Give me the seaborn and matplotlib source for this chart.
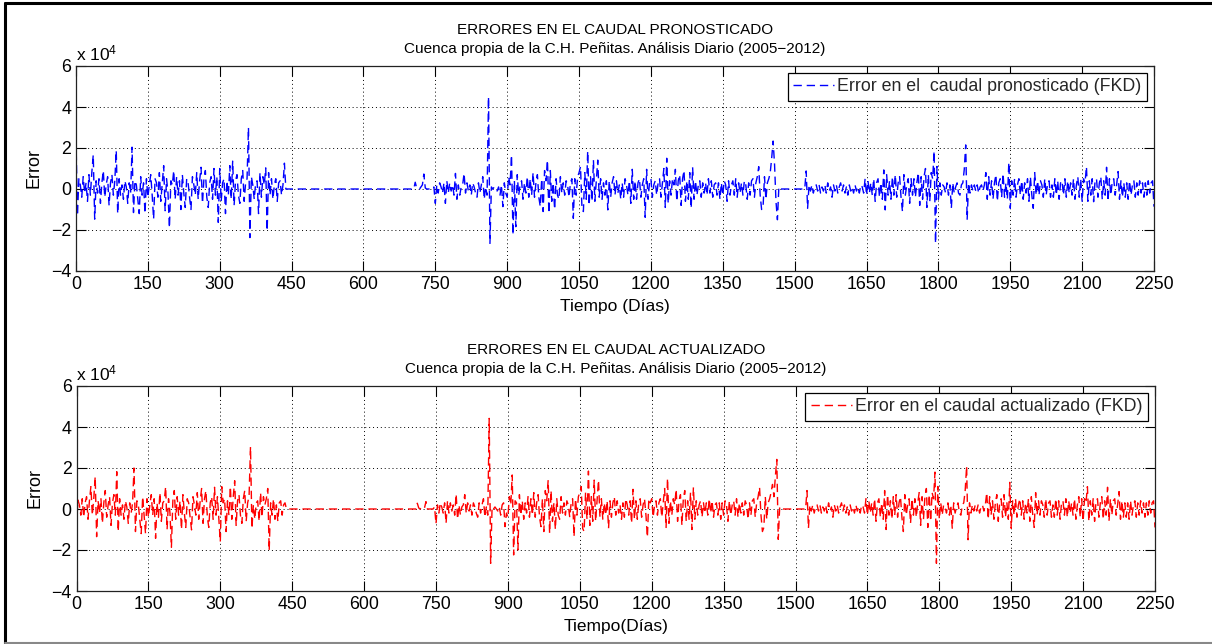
import matplotlib
matplotlib.use("Agg")
import matplotlib.pyplot as plt
import seaborn as sns
from matplotlib.lines import Line2D

# ---------------- data (values in units of 10^4, one value every 3 days) ----------------
days = list(range(0, 2251, 3))

err_pronosticado = [
    2.45, -1.3, 0.5, 0.2, -0.4, 0.6, -0.2, 0.3, -0.6, 0.7,
    -0.3, 0.8, 1.67, -1.47, 0.4, -0.2, 0.5, -0.7, 0.3, 0.9,
    -0.4, 0.2, 0.6, -0.8, 0.3, 0.7, -0.3, 0.4, 1.88, -1.2,
    0.5, -0.3, 0.2, -0.5, 0.4, 0.1, -0.7, 0.3, -0.2, 2.04,
    -1.15, 0.4, 0.2, -0.5, -1.2, 0.6, -0.3, 0.3, -1.2, 0.5,
    -0.4, 0.2, 0.7, -0.3, -1.47, 0.5, 0.3, -0.4, 0.8, -0.6,
    0.3, 1.14, -1.06, 0.5, -0.2, -1.9, 0.4, 0.2, 0.9, -0.5,
    0.6, -0.3, 0.4, -1.0, 0.7, -0.2, -0.9, 0.5, 0.3, -0.4,
    -1.0, 0.6, 0.2, -0.3, 0.8, -0.5, 0.4, 1.06, -0.7, 0.5,
    0.9, -0.4, -0.9, 0.3, 0.6, -0.5, 1.0, -0.3, 0.6, -1.63,
    1.0, -0.6, 0.3, 0.5, -1.2, 0.4, -0.3, 1.14, -0.5, 1.36,
    -0.8, 0.4, 0.7, -0.3, -0.7, 0.5, 0.9, -0.6, 0.3, 0.5,
    3.0, -2.37, 0.6, 0.2, -0.5, 0.3, 0.4, -1.2, 0.8, -0.4,
    0.6, 0.2, 1.03, -2.04, 0.8, -0.3, 0.5, -0.5, 0.2, 0.5,
    -0.6, 0.3, 0.4, -0.3, 0.2, 1.26, 0.0, 0.0, 0.0, 0.0,
    0, 0, 0, 0, 0, 0, 0, 0, 0, 0,
    0, 0, 0, 0, 0, 0, 0, 0, 0, 0,
    0, 0, 0, 0, 0, 0, 0, 0, 0, 0,
    0, 0, 0, 0, 0, 0, 0, 0, 0, 0,
    0, 0, 0, 0, 0, 0, 0, 0, 0, 0,
    0, 0, 0, 0, 0, 0, 0, 0, 0, 0,
    0, 0, 0, 0, 0, 0, 0, 0, 0, 0,
    0, 0, 0, 0, 0, 0, 0, 0, 0, 0,
    0, 0, 0, 0, 0, 0, 0.33, 0.05, 0.0, 0.0,
    0.1, 0.2, 0.73, 0.05, 0.0, 0.0, 0.0, 0.0, 0.0, 0.1,
    -0.7, 0.2, -0.2, 0.3, 0.1, -0.2, 0.3, -0.7, 0.4, -0.2,
    0.3, -0.1, 0.2, -0.3, 0.76, -0.5, 0.2, -0.3, 0.1, 0.2,
    0.76, -0.2, 0.3, -0.1, 0.2, -0.3, 0.3, 0.1, -0.2, -0.4,
    0.3, -0.2, 0.2, 0.6, -0.5, 0.1, -0.3, 4.5, -2.65, 0.1,
    0.0, 0.1, 0.0, -0.1, 0.1, -0.3, 0.2, -0.86, 0.3, -0.2,
    -0.4, 0.6, 0.2, 1.66, -2.24, 0.4, -1.84, 0.7, -0.3, 0.2,
    0.4, -0.5, 0.3, -0.2, 0.6, -0.4, 0.5, -0.3, 0.8, -0.4,
    0.3, 0.7, -0.4, -0.86, 0.5, -1.1, 0.9, 0.4, 1.41, -1.19,
    0.9, -0.6, 0.3, -1.0, 0.5, -0.3, -0.5, 0.6, -0.2, 0.3,
    -0.3, 0.4, 0.2, -0.4, 0.3, 0.5, -1.43, 0.5, -0.3, 0.6,
    0.8, 1.09, -0.9, -1.1, 0.8, -0.5, 1.85, -0.8, 0.6, -0.6,
    1.41, -0.6, 0.4, 1.41, -0.4, 0.5, -0.5, 0.3, -0.3, 0.4,
    -1.02, 0.4, -0.4, 0.3, 0.6, -0.3, 0.4, -0.2, 0.2, -0.5,
    0.3, -0.4, 0.5, 0.2, -0.3, 0.4, -0.7, 0.96, -0.5, 0.4,
    -0.5, 0.3, 0.5, -0.4, 0.2, 0.5, -1.38, 0.96, -0.5, 0.3,
    0.5, -0.4, 0.2, 0.4, -0.3, 0.3, 0.5, -0.4, 0.3, 1.0,
    -0.9, 1.5, -0.7, 0.4, -0.3, 0.5, 0.2, 0.96, -0.6, 0.4,
    0.7, -0.8, 0.5, 0.9, -0.6, 0.4, -0.5, 0.8, -0.94, 1.06,
    -0.5, 0.4, -0.3, 0.2, 0.4, -0.4, 0.3, -0.2, 0.3, -0.3,
    0.5, -0.2, 0.4, -0.4, 0.2, 0.3, -0.3, 0.3, -0.5, 0.3,
    -0.3, 0.4, 0.2, -0.6, 0.4, -0.3, 0.2, 0.4, -0.3, 0.5,
    -0.4, 0.3, -0.2, 0.3, -0.3, 0.4, 0.2, -0.5, 0.3, -0.3,
    0.4, 0.5, -0.4, 0.3, 0.6, 1.09, -0.3, -1.0, -0.9, 0.6,
    -0.5, 0.3, 0.5, 0.8, 1.5, 2.34, 1.2, -0.6, -1.5, 0.1,
    0.0, 0, 0, 0, 0, 0, 0, 0, 0, 0,
    0, 0, 0, 0, 0, 0, 0, 0, 0.88, -0.94,
    0.2, -0.1, 0.2, -0.2, 0.1, 0.2, -0.1, 0.2, -0.2, 0.1,
    -0.1, 0.2, -0.2, 0.3, -0.1, 0.1, -0.4, 0.2, -0.1, 0.2,
    -0.2, 0.1, 0.3, -0.1, 0.2, -0.2, 0.1, -0.3, 0.2, -0.1,
    0.1, -0.2, 0.2, -0.1, 0.1, -0.2, 0.2, 0.1, -0.2, 0.5,
    -0.3, 0.4, -0.2, 0.3, -0.3, 0.5, -0.6, 0.3, 0.5, -0.4,
    0.3, -0.5, 0.93, -1.02, 0.7, -0.3, 0.4, -0.5, 0.6, -0.3,
    0.7, -0.4, 0.3, 0.6, -0.4, -1.1, 0.7, -0.3, 0.2, 0.5,
    -0.7, 0.5, -0.3, 0.5, -0.4, 0.3, 0.8, -0.8, 0.6, -0.5,
    0.6, 1.0, -0.9, 0.7, -0.6, 0.8, 0.5, 1.85, -2.65, 1.1,
    -0.5, 0.3, -0.3, 0.2, 0.1, -0.2, 0.3, -0.3, 0.2, -0.94,
    0.3, -0.2, 0.1, 0.3, -0.2, -0.3, 0.2, 0.3, 0.96, 2.15,
    -1.5, 0.3, -0.2, 0.2, -0.1, 0.2, -0.1, 0.2, -0.2, 0.1,
    0.2, -0.1, 0.2, 0.8, -0.5, 0.6, -0.3, 0.4, -0.5, 0.3,
    0.7, -0.6, 0.3, 0.5, -0.4, 0.76, -0.4, 0.3, -0.5, 1.3,
    -0.94, 0.4, -0.3, 0.5, -0.4, 0.2, 0.5, -0.3, 0.4, -0.5,
    0.3, -0.2, 0.5, -0.6, 0.6, -0.3, -0.94, 0.8, -0.3, 0.4,
    -0.3, 0.4, 0.2, -0.4, 0.5, -0.3, 0.3, 0.4, -0.4, 0.2,
    -0.4, 0.5, -0.3, 0.4, -0.5, 0.3, 0.4, -0.3, 0.5, -0.4,
    0.4, -0.2, 0.3, -0.3, 0.5, -0.5, 0.2, 0.6, -0.4, 0.5,
    -0.6, 0.5, 0.3, 1.09, -0.6, 0.4, -0.3, 0.5, -0.62, 0.4,
    0.5, -0.4, 0.3, 0.6, -0.5, 0.4, -0.3, 1.06, -0.6, 0.5,
    -0.3, 0.4, 0.5, -0.3, 0.2, 0.85, -0.5, 0.4, -0.4, 0.3,
    -0.4, 0.3, -0.5, 0.4, -0.3, 0.2, 0.4, -0.4, 0.3, -0.3,
    0.4, -0.2, 0.3, -0.4, 0.3, -0.3, 0.4, -0.2, 0.3, 0.4,
    -0.86,
]

err_actualizado = [
    -0.86, 0.44, 0.2, -0.3, 0.5, -0.4, 0.3, 0.6, -0.5, 0.4,
    1.09, -0.3, 0.5, 1.58, -1.35, 0.4, -0.2, 0.5, -0.7, 0.3,
    0.9, -0.4, 0.2, 0.6, -0.8, 0.3, 0.7, -0.3, 1.82, -1.1,
    0.5, -0.3, 0.2, -0.5, 0.4, 0.1, -0.7, 0.3, -0.2, 0.3,
    2.0, -1.1, 0.4, 0.2, -0.5, -1.2, 0.6, -0.3, -1.2, 0.5,
    -0.4, 0.2, 0.7, -0.3, 0.5, -1.43, 0.3, -0.4, 0.8, -0.6,
    0.3, 0.4, 1.09, -1.0, 0.5, -0.2, -1.87, 0.4, 0.9, -0.5,
    0.6, -0.3, 0.4, -1.0, 0.7, -0.2, -0.9, 0.5, 0.3, -0.4,
    -1.02, 0.6, 0.2, -0.3, 0.8, -0.5, 0.4, 1.0, -0.7, 0.5,
    0.9, -0.4, -0.9, 0.3, 0.6, -0.5, 1.06, -0.3, 0.6, -0.5,
    -1.6, 1.09, 0.3, 0.5, -1.1, 0.4, -0.3, 1.1, -0.5, 0.6,
    1.38, -0.8, 0.4, 0.7, -0.3, -0.7, 0.5, 0.9, -0.6, 0.3,
    0.6, 3.04, -0.95, 0.2, -0.5, 0.3, 0.4, -0.6, 0.8, -0.4,
    0.6, 0.2, 0.5, 1.0, -2.03, 0.3, -0.3, 0.5, -0.5, 0.2,
    -0.6, 0.3, 0.4, -0.3, 0.2, 0.3, 0.0, 0.0, 0.0, 0.0,
    0, 0, 0, 0, 0, 0, 0, 0, 0, 0,
    0, 0, 0, 0, 0, 0, 0, 0, 0, 0,
    0, 0, 0, 0, 0, 0, 0, 0, 0, 0,
    0, 0, 0, 0, 0, 0, 0, 0, 0, 0,
    0, 0, 0, 0, 0, 0, 0, 0, 0, 0,
    0, 0, 0, 0, 0, 0, 0, 0, 0, 0,
    0, 0, 0, 0, 0, 0, 0, 0, 0, 0,
    0, 0, 0, 0, 0, 0, 0, 0, 0, 0,
    0, 0, 0, 0, 0, 0, 0, 0.28, 0.05, 0.0,
    0.1, 0.1, 0.05, 0.36, 0.0, 0.0, 0.0, 0.0, 0.0, 0.1,
    -0.72, 0.2, -0.2, 0.3, 0.1, -0.2, 0.3, -0.7, 0.4, -0.2,
    0.3, -0.1, 0.2, -0.3, 0.73, -0.5, 0.2, -0.3, 0.1, 0.2,
    0.7, -0.2, 0.3, -0.1, 0.2, -0.3, 0.3, 0.1, -0.2, -0.4,
    0.3, -0.2, 0.2, 0.5, -0.4, 0.1, -0.3, 4.42, -2.65, 0.1,
    0.0, 0.1, 0.0, -0.1, 0.1, -0.3, 0.2, 0.3, -0.86, -0.2,
    -0.4, 0.6, 0.2, 1.66, -2.24, 0.4, 0.3, -2.0, 0.7, -0.3,
    0.4, -0.5, 0.3, -0.2, 0.6, -0.4, 0.5, -0.3, 0.8, -0.4,
    0.3, 0.7, -0.4, -0.86, 0.5, -1.1, 0.9, 0.4, 1.41, -1.19,
    0.9, -0.6, 0.3, -1.0, 0.5, -0.3, -0.5, 0.6, -0.2, 0.3,
    -0.3, 0.4, 0.2, -0.4, 0.3, 0.5, -1.35, 0.5, -0.3, 0.6,
    0.8, 1.09, -0.95, -1.1, 0.8, -0.5, 1.85, -0.8, 0.6, -0.6,
    1.41, -0.6, 0.4, 1.41, -0.4, 0.5, -0.5, 0.3, -0.3, 0.4,
    -0.94, 0.4, -0.4, 0.3, 0.6, -0.3, 0.4, -0.2, 0.2, -0.5,
    0.3, -0.4, 0.5, 0.2, -0.3, 0.4, -0.7, 0.96, -0.5, 0.4,
    -0.5, 0.3, 0.5, -0.4, 0.2, 0.5, -0.3, -1.38, 0.5, 0.3,
    0.5, -0.4, 0.2, 0.4, -0.3, 0.3, 0.5, -0.4, 0.3, 1.0,
    -0.9, 1.5, -0.7, 0.4, -0.3, 0.5, 0.2, 0.96, -0.6, 0.4,
    0.7, -0.8, 0.5, 0.9, -0.6, 0.4, -0.5, 0.8, -1.0, 1.06,
    -0.5, 0.4, -0.3, 0.2, 0.4, -0.4, 0.3, -0.2, 0.3, -0.3,
    0.5, -0.2, 0.4, -0.4, 0.2, 0.3, -0.3, 0.3, -0.5, 0.3,
    -0.3, 0.4, 0.2, -0.6, 0.4, -0.3, 0.2, 0.4, -0.3, 0.5,
    -0.4, 0.3, -0.2, 0.3, -0.3, 0.4, 0.2, -0.5, 0.3, -0.3,
    0.4, 0.5, -0.4, 0.3, 0.6, 1.06, -0.3, -1.1, -0.9, 0.6,
    -0.5, 0.3, 0.5, 0.8, 1.2, 0.6, 1.6, 2.42, -1.48, 0.1,
    0.0, 0, 0, 0, 0, 0, 0, 0, 0, 0,
    0, 0, 0, 0, 0, 0, 0, 0, 0.9, -0.94,
    0.2, -0.1, 0.2, -0.2, 0.1, 0.2, -0.1, 0.2, -0.2, 0.1,
    -0.1, 0.2, -0.2, 0.3, -0.1, 0.1, -0.4, 0.2, -0.1, 0.2,
    -0.2, 0.1, 0.3, -0.1, 0.2, -0.2, 0.1, -0.3, 0.2, -0.1,
    0.1, -0.2, 0.2, -0.1, 0.1, -0.2, 0.2, 0.1, -0.2, 0.5,
    -0.3, 0.4, -0.2, 0.3, -0.3, 0.5, -0.6, 0.3, 0.5, -0.4,
    0.3, -0.5, 0.9, -1.0, 0.7, -0.3, 0.4, -0.5, 0.6, -0.3,
    0.7, -0.4, 0.3, 0.6, -0.4, -1.1, 0.7, -0.3, 0.2, 0.5,
    -0.7, 0.5, -0.3, 0.5, -0.4, 0.3, 0.8, -0.8, 0.6, -0.5,
    0.6, 1.0, -0.9, 0.7, -0.6, 0.8, 0.5, 1.8, -2.65, 1.1,
    -0.5, 0.3, -0.3, 0.2, 0.1, -0.2, 0.3, -0.3, 0.2, -0.94,
    0.3, -0.2, 0.1, 0.3, -0.2, -0.3, 0.2, 0.3, 0.9, 2.1,
    -1.5, 0.3, -0.2, 0.2, -0.1, 0.2, -0.1, 0.2, -0.2, 0.1,
    0.2, -0.1, 0.2, 0.8, -0.5, 0.6, -0.3, 0.4, -0.5, 0.3,
    0.7, -0.6, 0.3, 0.5, -0.4, 0.7, -0.4, 0.3, -0.5, 1.3,
    -0.94, 0.4, -0.3, 0.5, -0.4, 0.2, 0.5, -0.3, 0.4, -0.5,
    0.3, -0.2, 0.5, -0.6, 0.6, -0.3, -0.9, 0.8, -0.3, 0.4,
    -0.3, 0.4, 0.2, -0.4, 0.5, -0.3, 0.3, 0.4, -0.4, 0.2,
    -0.4, 0.5, -0.3, 0.4, -0.5, 0.3, 0.4, -0.3, 0.5, -0.4,
    0.4, -0.2, 0.3, -0.3, 0.5, -0.5, 0.2, 0.6, -0.4, 0.5,
    -0.6, 0.5, 0.3, 1.09, -0.6, 0.4, -0.3, 0.5, -0.6, 0.4,
    0.5, -0.4, 0.3, 0.6, -0.5, 0.4, -0.3, 1.06, -0.6, 0.5,
    -0.3, 0.4, 0.5, -0.3, 0.2, 0.85, -0.5, 0.4, -0.4, 0.3,
    -0.4, 0.3, -0.5, 0.4, -0.3, 0.2, 0.4, -0.4, 0.3, -0.3,
    0.4, -0.2, 0.3, -0.4, 0.3, -0.3, 0.4, -0.2, 0.3, 0.4,
    -0.9,
]

x_ticks = [0, 150, 300, 450, 600, 750, 900, 1050, 1200, 1350,
           1500, 1650, 1800, 1950, 2100, 2250]
y_ticks = [-4, -2, 0, 2, 4, 6]
y_tick_labels = ["\u22124", "\u22122", "0", "2", "4", "6"]

titles = [
    "ERRORES EN EL CAUDAL PRONOSTICADO\n"
    "Cuenca propia de la C.H. Peñitas. Análisis Diario (2005\u22122012)",
    "ERRORES EN EL CAUDAL ACTUALIZADO\n"
    "Cuenca propia de la C.H. Peñitas. Análisis Diario (2005\u22122012)",
]
legend_labels = ["Error en el  caudal pronosticado (FKD)",
                 "Error en el caudal actualizado (FKD)"]
x_labels = ["Tiempo (Días)", "Tiempo(Días)"]
colors = ["#0000FF", "#FF0000"]

# ---------------- style ----------------
sns.set_theme(style="white")
plt.rcParams.update({
    "font.family": ["Liberation Sans", "DejaVu Sans"],
    "mathtext.fontset": "custom",
    "mathtext.rm": "Liberation Sans",
    "mathtext.it": "Liberation Sans",
    "axes.unicode_minus": True,
})

W, H = 1212, 644
fig = plt.figure(figsize=(W / 100, H / 100), dpi=100)
fig.patch.set_facecolor("white")

ax1 = fig.add_axes([76 / W, 1 - 271 / H, 1078 / W, 205 / H])
ax2 = fig.add_axes([76.5 / W, 1 - 591 / H, 1078.5 / W, 205 / H])

series = [err_pronosticado, err_actualizado]

for k, ax in enumerate([ax1, ax2]):
    sns.lineplot(x=days, y=series[k], ax=ax, color=colors[k], linewidth=1.0,
                 linestyle=(0, (6, 3.5)), estimator=None, sort=False,
                 label=legend_labels[k])
    ax.set_facecolor("white")
    ax.set_xlim(0, 2250)
    ax.set_ylim(-4, 6)
    ax.set_xticks(x_ticks)
    ax.set_xticklabels([str(t) for t in x_ticks])
    ax.set_yticks(y_ticks)
    ax.set_yticklabels(y_tick_labels)
    ax.grid(True, color="black", linestyle=(0, (1, 3)), linewidth=0.7)
    ax.set_axisbelow(True)
    ax.tick_params(direction="in", length=7.5, width=0.8, top=True, right=True,
                   bottom=True, left=True, labelsize=12.8, pad=3.5,
                   colors="black")
    for s in ax.spines.values():
        s.set_color("#222222")
        s.set_linewidth(0.9)
    ax.set_title(titles[k], fontsize=11, linespacing=1.5, pad=9, color="black")
    ax.set_xlabel(x_labels[k], fontsize=12.5, labelpad=4.5, color="black")
    ax.set_ylabel("Error", fontsize=13, labelpad=6, color="black")
    ax.text(0.0, 1.015, r"x 10$^{4}$", transform=ax.transAxes, ha="left",
            va="bottom", fontsize=12.5, color="black")
    leg = ax.legend(loc="upper right", fontsize=12.8, frameon=True,
                    fancybox=False, edgecolor="black", framealpha=1,
                    borderpad=0.3, borderaxespad=0.4, handlelength=2.3,
                    handletextpad=0.2)
    leg.get_frame().set_linewidth(0.9)

# figure border
fig.add_artist(Line2D([5 / W, 5 / W], [0, 1 - 3 / H], transform=fig.transFigure,
                      color="black", linewidth=2.2))
fig.add_artist(Line2D([5 / W, 1], [1 - 3 / H, 1 - 3 / H], transform=fig.transFigure,
                      color="black", linewidth=2.2))
fig.add_artist(Line2D([5 / W, 1], [1 - 642.5 / H, 1 - 642.5 / H],
                      transform=fig.transFigure, color="#888888", linewidth=1.5))

fig.savefig("out.png", dpi=100, facecolor="white")
